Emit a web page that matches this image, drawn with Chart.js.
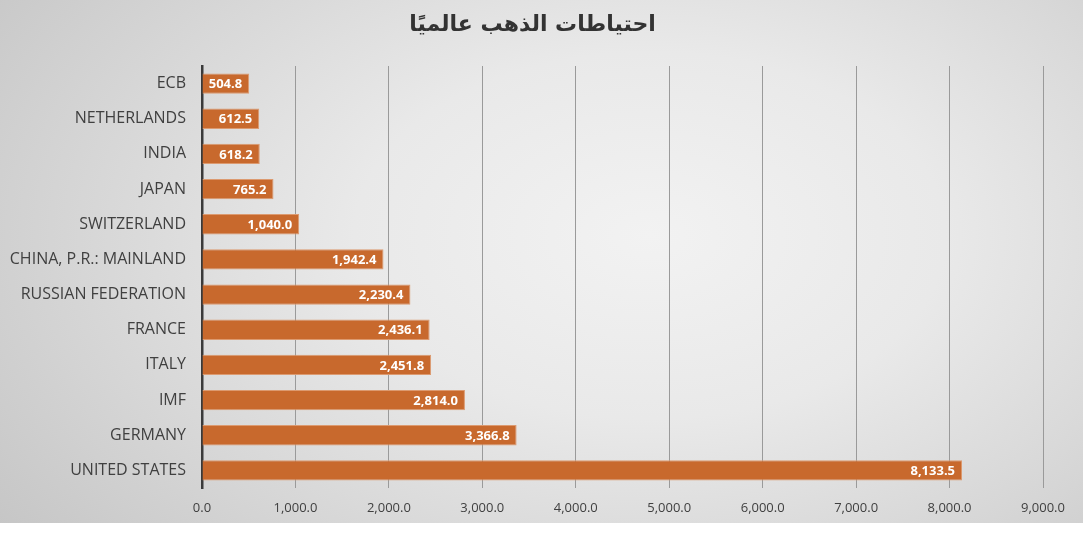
<!DOCTYPE html>
<html>
<head>
<meta charset="utf-8">
<script src="https://cdn.jsdelivr.net/npm/chart.js@4"></script>
<style>
  html, body { margin: 0; padding: 0; background: #ffffff; }
  #box {
    width: 1083px; height: 523px; position: relative;
    background: radial-gradient(ellipse 78% 100% at 60% 45%, #f2f2f2 0%, #e9e9e9 35%, #c3c3c3 100%);
  }
</style>
</head>
<body>
<div id="box"><canvas id="chart" width="1083" height="523"></canvas></div>
<script>
// ── Data ────────────────────────────────────────────────────────────────
const TITLE = "احتياطات الذهب عالميًا";
const countries = [
  "ECB", "NETHERLANDS", "INDIA", "JAPAN", "SWITZERLAND",
  "CHINA, P.R.: MAINLAND", "RUSSIAN FEDERATION", "FRANCE", "ITALY",
  "IMF", "GERMANY", "UNITED STATES",
];
const reserves = [504.8, 612.5, 618.2, 765.2, 1040.0, 1942.4, 2230.4, 2436.1, 2451.8, 2814.0, 3366.8, 8133.5];
const xMin = 0, xMax = 9000, xStep = 1000;

const BAR = "#c8692d";
const TEXT = "#404040";

const fmt = v => v.toLocaleString("en-US", { minimumFractionDigits: 1, maximumFractionDigits: 1 });

// ── Title (drawn right-to-left, centred on the canvas) ──────────────────
const rtlTitle = {
  id: "rtlTitle",
  afterDraw(chart) {
    const ctx = chart.ctx;
    ctx.save();
    ctx.direction = "rtl";
    ctx.font = "bold 22px 'DejaVu Sans', sans-serif";
    ctx.fillStyle = "#333333";
    ctx.textAlign = "center";
    ctx.textBaseline = "middle";
    ctx.fillText(TITLE, chart.width / 2 - 9, 25);
    ctx.restore();
  },
};

// ── Value labels inside bar end ─────────────────────────────────────────
const valueLabels = {
  id: "valueLabels",
  afterDatasetsDraw(chart) {
    const ctx = chart.ctx;
    const meta = chart.getDatasetMeta(0);
    ctx.save();
    ctx.font = "bold 13px 'Open Sans', sans-serif";
    ctx.fillStyle = "#ffffff";
    ctx.textAlign = "right";
    ctx.textBaseline = "middle";
    meta.data.forEach((bar, i) => {
      ctx.fillText(fmt(reserves[i]), bar.x - 7, bar.y + 1);
    });
    ctx.restore();
  },
};

new Chart(document.getElementById("chart"), {
  type: "bar",
  data: {
    labels: countries,
    datasets: [{
      data: reserves,
      backgroundColor: BAR,
      borderColor: "#dc9a70",
      borderWidth: 1,
      borderSkipped: "start",
      barPercentage: 0.58,
      categoryPercentage: 1,
    }],
  },
  options: {
    indexAxis: "y",
    responsive: false,
    animation: false,
    layout: { padding: { left: 0, right: 40, top: 66, bottom: 0 } },
    plugins: {
      legend: { display: false },
      tooltip: { enabled: false },
      title: { display: false },
    },
    scales: {
      x: {
        min: xMin, max: xMax,
        grid: { color: "#9a9a9a", lineWidth: 1, drawTicks: false },
        border: { display: false },
        ticks: {
          stepSize: xStep, color: TEXT, padding: 12,
          font: { family: "'Open Sans', sans-serif", size: 13 },
          callback: v => fmt(v),
        },
        afterFit: s => { s.height = 35; },
      },
      y: {
        grid: { display: false, drawTicks: false },
        border: { display: true, color: "#3a3a3a", width: 2.5 },
        ticks: {
          color: TEXT, padding: 16,
          font: { family: "'Open Sans', sans-serif", size: 16 },
        },
        afterFit: s => { s.width = 202; },
      },
    },
  },
  plugins: [valueLabels, rtlTitle],
});
</script>
</body>
</html>
